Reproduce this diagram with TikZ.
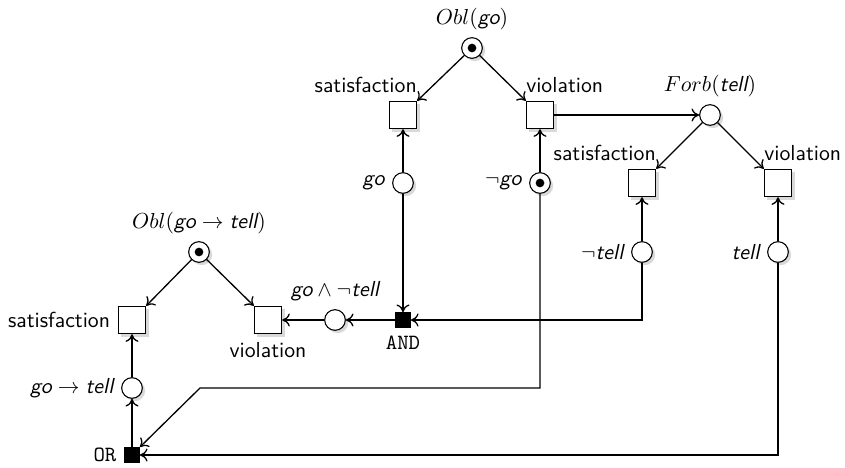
\documentclass[tikz,border=0pt]{standalone}
\usepackage{amsmath}
\usepackage{amssymb}
\usetikzlibrary{petri,shadows,arrows.meta}
\renewcommand{\familydefault}{\sfdefault}
\newcommand{\prop}[1]{\textsf{\itshape #1}}

\begin{document}
\begin{tikzpicture}[x=0.46pt,y=-0.46pt,
		shdw/.style={drop shadow={shadow xshift=1.3pt,shadow yshift=-1.3pt,fill=black!15,opacity=1}},
		every place/.style={draw,line width=0.5pt,minimum size=9.5pt,fill=white,shdw},
		every token/.style={fill=black,minimum size=4pt},
		sqplace/.style={draw,line width=0.5pt,fill=white,minimum size=12.6pt,inner sep=0pt,shdw},
		gate/.style={draw,fill=black,minimum size=6.9pt,inner sep=0pt},
		satlabel/.style={label={[anchor=south east,xshift=3.3pt]north east:satisfaction}},
		violabel/.style={label={[anchor=south west,xshift=-3.3pt]north west:violation}},
		flow/.style={line width=0.6pt,-{To[length=3.5pt,width=6pt]}}]
		\useasboundingbox (0,0) rectangle (845,467);
		
		% top obligation
		\node[place,tokens=1,label=above:$Obl(\prop{go})$] (oblgo) at (472,48) {};
		\node[sqplace,satlabel] (sat1) at (403,115) {};
		\node[sqplace,violabel] (vio1) at (540,115) {};
		\node[place,label=left:$\prop{go}$] (go) at (403,183) {};
		\node[place,tokens=1,label=left:$\neg\prop{go}$] (notgo) at (540,183) {};
		
		% prohibition
		\node[place,label=above:$Forb(\prop{tell})$] (forb) at (710,115) {};
		\node[sqplace,satlabel] (sat2) at (642,183) {};
		\node[sqplace,violabel] (vio2) at (778,183) {};
		\node[place,label=left:$\neg\prop{tell}$] (nottell) at (642,252) {};
		\node[place,label=left:$\prop{tell}$] (tell) at (778,252) {};
		
		% conditional obligation
		\node[place,tokens=1,label=above:$Obl(\prop{go}\to\prop{tell})$] (oblgt) at (199,252) {};
		\node[sqplace,label=left:satisfaction] (sat3) at (132,320) {};
		\node[sqplace,label=below:violation] (vio3) at (268,320) {};
		\node[place,label=above:$\prop{go}\wedge\neg\prop{tell}$] (goandnt) at (335,320) {};
		\node[place,label=left:$\prop{go}\to\prop{tell}$] (goimpt) at (132,388) {};
		\node[gate,label=below:\texttt{AND}] (and) at (403,320) {};
		\node[gate,label=left:\texttt{OR}] (or) at (132,455) {};
		\coordinate (bend) at (200,388);
		
		\draw[flow] (oblgo) -- (sat1.north east);
		\draw[flow] (oblgo) -- (vio1.north west);
		\draw[flow] (forb) -- (sat2.north east);
		\draw[flow] (forb) -- (vio2.north west);
		\draw[flow] (oblgt) -- (sat3.north east);
		\draw[flow] (oblgt) -- (vio3.north west);
		\draw[flow] (go) -- (sat1);
		\draw[flow] (notgo) -- (vio1);
		\draw[flow] (nottell) -- (sat2);
		\draw[flow] (tell) -- (vio2);
		\draw[flow] (vio1) -- (forb);
		\draw[flow] (go) -- (and);
		\draw[flow] (nottell) |- (and);
		\draw[flow] (and) -- (goandnt);
		\draw[flow] (goandnt) -- (vio3);
		\draw[flow] (notgo) |- (bend) -- (or.north east);
		\draw[flow] (tell) |- (or);
		\draw[flow] (or) -- (goimpt);
		\draw[flow] (goimpt) -- (sat3);
	\end{tikzpicture}
\end{document}
